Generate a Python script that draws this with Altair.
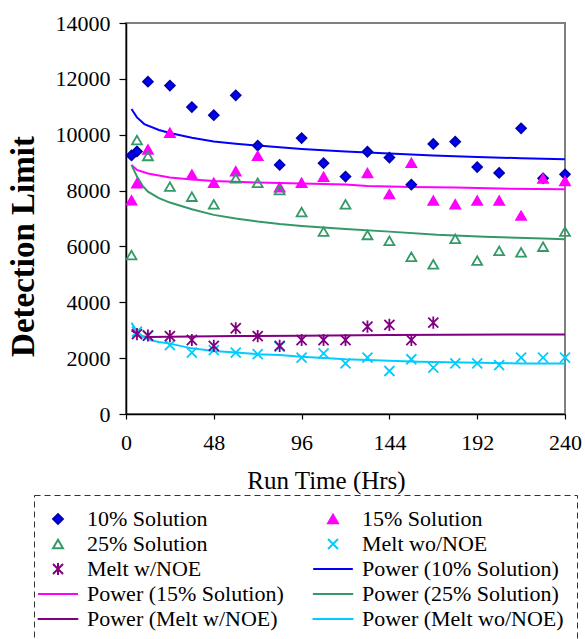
import altair as alt
import pandas as pd

# ---------------- data ----------------
SERIES = ["10% Solution", "15% Solution", "25% Solution", "Melt wo/NOE", "Melt w/NOE",
          "Power (10% Solution)", "Power (15% Solution)", "Power (25% Solution)",
          "Power (Melt w/NOE)", "Power (Melt wo/NOE)"]

t_sol10 = [3, 6, 12, 24, 36, 48, 60, 72, 84, 96, 108, 120, 132, 144, 156, 168, 180, 192, 204, 216, 228, 240]
v_sol10 = [9260, 9400, 11900, 11760, 10990, 10700, 11410, 9610, 8920, 9880, 8980, 8500,
           9390, 9180, 8210, 9670, 9750, 8840, 8630, 10230, 8440, 8580]

t_sol15 = [3, 6, 12, 24, 36, 48, 60, 72, 84, 96, 108, 132, 144, 156, 168, 180, 192, 204, 216, 228, 240]
v_sol15 = [7650, 8260, 9470, 10070, 8570, 8280, 8690, 9240, 8120, 8280, 8490,
           8630, 7870, 8990, 7640, 7510, 7640, 7640, 7100, 8430, 8340]

t_sol25 = [3, 6, 12, 24, 36, 48, 60, 72, 84, 96, 108, 120, 132, 144, 156, 168, 180, 192, 204, 216, 228, 240]
v_sol25 = [5690, 9810, 9240, 8140, 7780, 7510, 8440, 8280, 8020, 7230, 6530, 7510,
           6410, 6200, 5630, 5360, 6270, 5490, 5840, 5790, 5990, 6530]

t_meltwo = [6, 12, 24, 36, 48, 60, 72, 84, 96, 108, 120, 132, 144, 156, 168, 180, 192, 204, 216, 228, 240]
v_meltwo = [2950, 2800, 2470, 2200, 2290, 2200, 2140, 2410, 2020, 2170, 1810,
            2020, 1540, 1960, 1660, 1810, 1810, 1750, 2020, 2020, 2020]

t_meltw = [6, 12, 24, 36, 48, 60, 72, 84, 96, 108, 120, 132, 144, 156, 168]
v_meltw = [2860, 2810, 2790, 2650, 2440, 3070, 2790, 2440, 2650, 2650, 2650, 3130, 3190, 2650, 3270]

# power trend lines
t_p10 = [3, 6, 10, 18, 24, 36, 48, 60, 72, 84, 96, 108, 120, 144, 168, 192, 216, 240]
v_p10 = [10920, 10620, 10380, 10170, 10060, 9890, 9760, 9680, 9610, 9550, 9490, 9440, 9400,
         9330, 9260, 9200, 9160, 9120]

t_p15 = [3, 6, 12, 24, 36, 48, 72, 96, 120, 132, 156, 180, 204, 240]
v_p15 = [8920, 8740, 8610, 8470, 8400, 8340, 8290, 8250, 8220, 8160, 8130, 8110, 8070, 8050]

t_p25 = [3, 6, 9, 12, 18, 24, 36, 48, 60, 72, 84, 96, 120, 144, 170, 196, 228, 240]
v_p25 = [8920, 8500, 8180, 7960, 7730, 7570, 7330, 7130, 7000, 6890, 6800, 6730, 6620, 6530,
         6420, 6350, 6280, 6260]

t_pmw = [3, 8, 12, 24, 60, 96, 144, 240]
v_pmw = [2990, 2780, 2760, 2770, 2790, 2800, 2830, 2850]

t_pmwo = [3, 6, 9, 13, 18, 24, 36, 48, 60, 72, 84, 96, 120, 160, 217, 240]
v_pmwo = [3270, 2950, 2780, 2650, 2580, 2520, 2350, 2260, 2200, 2140, 2110, 2050, 1960, 1870,
          1810, 1810]

x_ticks = [0, 48, 96, 144, 192, 240]
y_ticks = [0, 2000, 4000, 6000, 8000, 10000, 12000, 14000]

# ---------------- tables ----------------
def frame(ts, vs, name):
    return pd.DataFrame({"t": ts, "v": vs, "series": name})

points = pd.concat([
    frame(t_sol10, v_sol10, SERIES[0]),
    frame(t_sol15, v_sol15, SERIES[1]),
    frame(t_sol25, v_sol25, SERIES[2]),
    frame(t_meltwo, v_meltwo, SERIES[3]),
    frame(t_meltw, v_meltw, SERIES[4]),
], ignore_index=True)

lines = pd.concat([
    frame(t_p10, v_p10, SERIES[5]),
    frame(t_p15, v_p15, SERIES[6]),
    frame(t_p25, v_p25, SERIES[7]),
    frame(t_pmw, v_pmw, SERIES[8]),
    frame(t_pmwo, v_pmwo, SERIES[9]),
], ignore_index=True)

# ---------------- styles ----------------
X_PATH = "M-1,-1L1,1M-1,1L1,-1"
AST_PATH = "M-1,-1L1,1M-1,1L1,-1M0,-1.2L0,1.2"
LINE_PATH = "M-3.9,0L3.9,0"

shape_range = ["diamond", "triangle-up", "triangle-up", X_PATH, AST_PATH] + [LINE_PATH] * 5
fill_range = ["#0000FF", "#FF00FF", "transparent", "transparent", "transparent"] + ["transparent"] * 5
stroke_range = ["#0000AA", "#FF00FF", "#339966", "#00CCFF", "#800080",
                "#0000FF", "#FF00FF", "#339966", "#800080", "#00CCFF"]
size_range = [95, 110, 95, 150, 170] + [144] * 5

FONT = "Liberation Serif"

x_enc = alt.X("t:Q", scale=alt.Scale(domain=[0, 240], nice=False),
              axis=alt.Axis(values=x_ticks, title="Run Time (Hrs)", grid=False, format="d",
                            domainColor="black", domainWidth=1.5, tickColor="black",
                            tickSize=5, tickWidth=1.2, labelFont=FONT, labelFontSize=22,
                            labelColor="black", labelPadding=13, labelFlush=False,
                            titleFont=FONT, titleFontSize=25, titleFontWeight="normal",
                            titleColor="black", titleX=200, titleY=66,
                            titleBaseline="middle", titleAlign="center"))
y_enc = alt.Y("v:Q", scale=alt.Scale(domain=[0, 14000], nice=False),
              axis=alt.Axis(values=y_ticks, title="Detection Limit", grid=False, format="d",
                            domainColor="black", domainWidth=1.5, tickColor="black",
                            tickSize=7, tickWidth=1.2, labelFont=FONT, labelFontSize=22,
                            labelColor="black", labelPadding=9, labelFlush=False,
                            titleFont=FONT, titleFontSize=33, titleFontWeight="bold",
                            titleColor="black", titleX=-103, titleY=223, titleAngle=270,
                            titleBaseline="middle", titleAlign="center"))

legend = alt.Legend(title=None, orient="none", direction="horizontal",
                    legendX=-92, legendY=472, columns=2,
                    columnPadding=24, rowPadding=3,
                    labelFont=FONT, labelFontSize=22, labelColor="black",
                    labelOffset=18, labelLimit=400,
                    symbolStrokeWidth=2, symbolOpacity=1, padding=13,
                    strokeColor="#333333")

def scale(rng):
    return alt.Scale(domain=SERIES, range=rng)

pts = alt.Chart(points).mark_point(opacity=1, strokeWidth=1.8).encode(
    x=x_enc, y=y_enc,
    shape=alt.Shape("series:N", scale=scale(shape_range), legend=legend),
    fill=alt.Fill("series:N", scale=scale(fill_range), legend=legend),
    stroke=alt.Stroke("series:N", scale=scale(stroke_range), legend=legend),
    size=alt.Size("series:N", scale=scale(size_range), legend=legend),
)

lns = alt.Chart(lines).mark_line(strokeWidth=2).encode(
    x=x_enc, y=y_enc,
    stroke=alt.Stroke("series:N", scale=scale(stroke_range), legend=legend),
    detail="series:N",
)

chart = alt.layer(lns, pts).properties(
    width=439, height=391,
    autosize=alt.AutoSizeParams(type="none"),
    padding={"left": 126, "top": 23, "right": 20, "bottom": 225},
).configure(
    font=FONT, background="white"
).configure_view(
    stroke="#808080", strokeWidth=2
).configure_legend(
    strokeColor="#333333", strokeDash=[6, 4], strokeWidth=1
)

chart.save("out.html", embed_options={"renderer": "svg", "actions": False})
